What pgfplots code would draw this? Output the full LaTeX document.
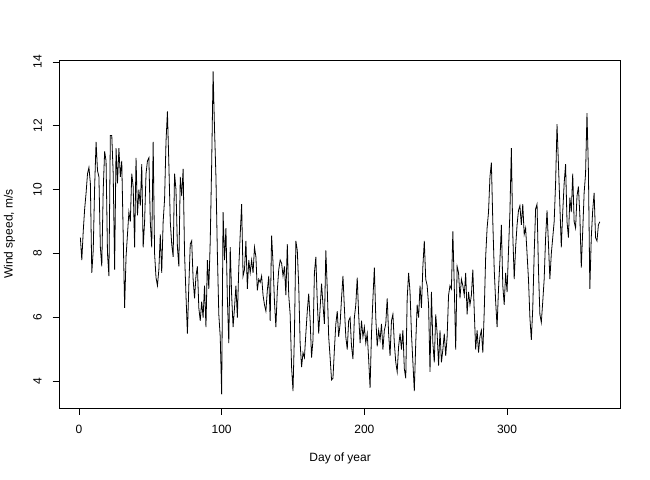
\documentclass[border=0pt]{standalone}
\usepackage{fontspec}
\setmainfont{Liberation Sans}
\usepackage{pgfplots}
\pgfplotsset{compat=1.18}
\usepackage{pgfplotstable}
\pgfplotstableread{
w
8.5
7.8
8.7
9.4
9.9
10.5
10.7
10.2
7.4
8.1
10.1
11.5
10.6
10.4
8.2
7.6
10.0
11.2
10.9
8.0
7.3
11.7
11.7
10.5
7.5
11.3
10.2
11.3
10.4
10.9
8.6
6.3
7.9
8.6
9.3
9.0
10.5
10.1
8.2
11.0
9.2
10.0
9.5
10.8
8.2
9.0
10.5
10.9
11.0
9.0
8.2
11.5
8.0
7.25
7.0
7.5
8.6
7.4
9.0
9.7
11.5
12.45
10.8
9.0
8.3
7.9
10.5
10.0
8.2
7.6
10.4
9.8
10.65
8.0
6.7
5.5
7.0
8.3
8.4
7.2
6.6
7.3
7.6
6.3
5.9
6.5
6.0
7.0
5.7
7.8
6.9
8.4
10.8
13.7
11.9
10.4
8.0
6.1
5.4
3.6
9.3
7.8
8.8
6.6
5.2
8.2
6.7
5.7
6.3
7.0
6.0
7.56
8.6
9.55
7.3
7.5
8.4
6.9
7.8
7.4
7.8
7.4
8.2
7.9
6.85
7.2
7.1
7.3
6.7
6.4
6.2
6.85
7.3
5.9
8.56
7.7
6.5
5.7
6.85
7.5
7.8
7.7
7.3
7.6
6.7
8.3
6.7
6.1
4.45
3.7
5.5
8.4
8.1
7.0
5.2
4.45
4.9
4.75
5.5
6.2
6.75
5.9
4.75
5.3
7.4
7.9
6.5
5.5
6.3
7.06
6.4
5.8
8.1
6.9
5.4
4.75
4.05
4.1
5.0
5.8
6.2
5.4
5.8
6.6
7.3
6.3
5.4
5.0
5.9
6.0
5.1
4.7
6.0
6.4
7.25
6.1
5.2
5.9
5.4
5.7
5.2
5.5
4.7
3.8
5.5
6.6
7.56
6.0
5.1
5.6
5.3
5.8
5.0
5.6
5.8
6.6
5.5
4.8
5.9
6.1
5.2
4.6
4.3
5.1
5.5
5.0
5.6
4.4
4.1
6.6
7.4
6.8
5.5
4.6
3.7
5.2
6.4
6.0
7.0
6.3
7.6
8.4
7.2
7.0
6.4
4.3
6.8
5.2
4.6
6.1
5.5
4.5
5.6
4.6
5.0
5.5
4.8
5.4
6.7
7.0
6.9
8.7
7.0
5.0
7.6
7.4
6.6
7.2
7.0
6.7
7.4
6.1
6.8
6.4
6.7
7.5
6.2
5.0
5.6
4.9
5.4
5.6
4.9
6.2
7.9
8.8
9.3
10.4
10.85
9.0
7.5
6.5
5.7
6.9
7.8
8.9
7.0
6.4
7.4
6.8
8.1
9.3
11.3
8.6
7.2
8.2
8.9
9.35
9.5
8.9
9.55
8.6
8.8
8.0
7.2
6.0
5.3
6.3
8.0
9.4
9.55
7.5
6.1
5.85
6.5
7.2
8.5
9.35
8.3
7.2
8.0
8.5
9.0
10.2
12.05
10.8
9.5
8.2
9.3
10.2
10.8
9.0
8.5
9.75
9.3
10.5
9.0
8.8
9.8
10.1
9.2
7.56
8.7
9.9
10.5
12.4
10.6
6.9
8.5
9.35
9.9
8.5
8.4
8.9
9.0
}\windtable
\begin{document}
\fontsize{12bp}{14bp}\selectfont
\begin{tikzpicture}[x=1bp,y=1bp]
\path (0,0) rectangle (650,480);
\begin{axis}[
  at={(59.6bp,72bp)}, anchor=south west,
  scale only axis, width=561bp, height=348bp,
  xmin=-13.56, xmax=379.56, ymin=3.17, ymax=14.06,
  axis line style={line width=0.8bp},
  xtick={0,100,200,300}, ytick={4,6,8,10,12,14},
  tick align=outside, xtick pos=bottom, ytick pos=left,
  major tick length=7bp,
  every tick/.style={black, line width=0.8bp},
  /pgf/number format/assume math mode=true,
  ticklabel style={font=\fontsize{12bp}{14bp}\selectfont},
  yticklabel style={rotate=90, anchor=center, yshift=15bp},
  xticklabel style={anchor=center, yshift=-14bp},
  xlabel={Day of year}, ylabel={Wind speed, m/s},
  label style={font=\fontsize{12bp}{14bp}\selectfont},
  xlabel style={at={(axis description cs:0.5,0)}, anchor=center, yshift=-50bp},
  ylabel style={at={(axis description cs:-0.0891,0.5)}, anchor=center},
  clip=false,
]
\addplot[black, line width=0.8bp, mark=none] table[x expr=\coordindex+1, y=w] {\windtable};
\end{axis}
\end{tikzpicture}
\end{document}
